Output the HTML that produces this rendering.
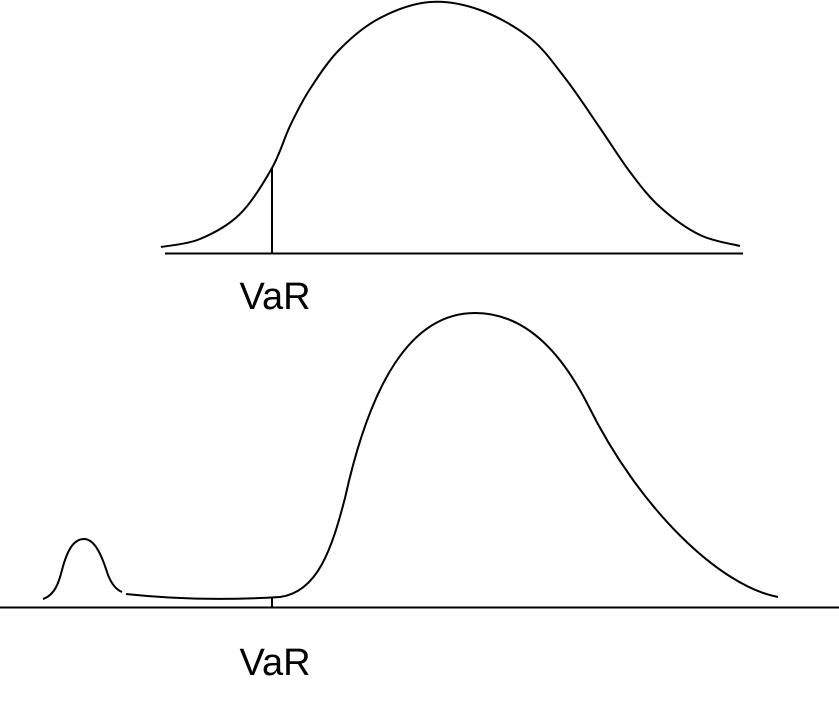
<!DOCTYPE html>
<html><head><meta charset="utf-8"><style>
html,body{margin:0;padding:0;background:#fff;width:839px;height:708px;overflow:hidden}
svg{display:block}
text{font-family:"Liberation Sans",Arial,sans-serif;font-size:38px;fill:#000}
</style></head><body>
<svg width="839" height="708" viewBox="0 0 839 708">
<g>
<line x1="165" y1="253.5" x2="743" y2="253.5" stroke="#000" stroke-width="2"/>
<path id="topCurve" fill="none" stroke="#000" stroke-width="2"/>
<line x1="272" y1="168" x2="272" y2="253" stroke="#000" stroke-width="2"/>
<text x="275" y="309" text-anchor="middle">VaR</text>
</g>
<g>
<line x1="0" y1="607.5" x2="839" y2="607.5" stroke="#000" stroke-width="2"/>
<path d="M43 599 C55 595 59 582 62 570 C68 547 75 539 84 539 C95 539 102 556 108 575 C112 585 117 590 122 592" fill="none" stroke="#000" stroke-width="2"/>
<path d="M126 594 Q200 602 280 597" fill="none" stroke="#000" stroke-width="2"/>
<path d="M280 597 C318 592 332 548 345 498 C370 385 410 313 475 313 C530 313 565 360 588 405 C640 510 720 586 778 597" fill="none" stroke="#000" stroke-width="2"/>
<line x1="272" y1="597" x2="272" y2="607" stroke="#000" stroke-width="2"/>
<text x="275" y="675" text-anchor="middle">VaR</text>
</g>
</svg>
<script>
const curveX=[161,200,240,272,290,310,340,380,430,480,530,565,600,630,660,700,740];
const curveY=[247,239,214,168,126,89,49,18,2,10,38,78,128,172,207,235,246];
let d='M'+curveX[0]+' '+curveY[0];
for(let i=0;i<curveX.length-1;i++){
  const i0=Math.max(i-1,0), i3=Math.min(i+2,curveX.length-1);
  const c1x=curveX[i]+(curveX[i+1]-curveX[i0])/6, c1y=curveY[i]+(curveY[i+1]-curveY[i0])/6;
  const c2x=curveX[i+1]-(curveX[i3]-curveX[i])/6, c2y=curveY[i+1]-(curveY[i3]-curveY[i])/6;
  d+=' C'+c1x.toFixed(1)+' '+c1y.toFixed(1)+' '+c2x.toFixed(1)+' '+c2y.toFixed(1)+' '+curveX[i+1]+' '+curveY[i+1];
}
document.getElementById('topCurve').setAttribute('d',d);
</script>
</body></html>
